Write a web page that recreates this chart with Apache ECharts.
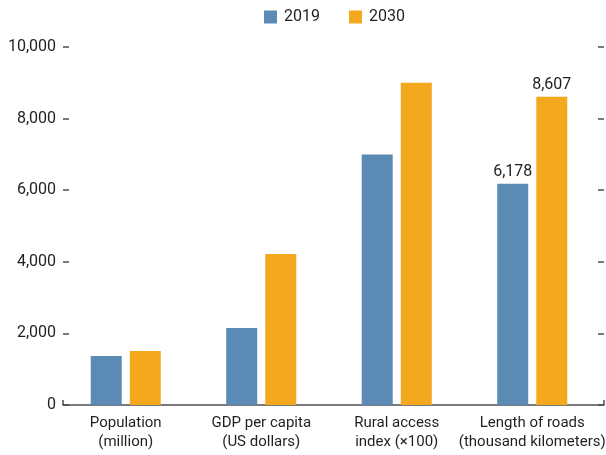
<!DOCTYPE html>
<html>
<head>
<meta charset="utf-8">
<script src="https://cdn.jsdelivr.net/npm/echarts@6/dist/echarts.min.js"></script>
<style>
  html, body { margin: 0; padding: 0; background: #fff; }
  #chart { width: 606px; height: 455px; }
</style>
</head>
<body>
<div id="chart"></div>
<script>
// values
var categories = ['Population\n(million)', 'GDP per capita\n(US dollars)', 'Rural access\nindex (\u00d7100)', 'Length of roads\n(thousand kilometers)']
var years = ['2019', '2030']
var values2019 = [1370, 2150, 7000, 6178]
var values2030 = [1505, 4220, 9000, 8607]
var labelled = [false, false, false, true] // only the roads pair carries numbers
var yTicks = { min: 0, max: 10000, interval: 2000 }

var FONT = "Roboto, 'Liberation Sans', sans-serif"
var TEXT = '#231f20'
var AXIS = '#4d4d4f'

function withLabels(arr) {
  return arr.map(function (v, i) {
    return labelled[i] ? { value: v, label: { show: true } } : v
  })
}

var chart = echarts.init(document.getElementById('chart'))
chart.setOption({
  animation: false,
  textStyle: { fontFamily: FONT },
  color: ['#5b8ab5', '#f4a81e'],
  legend: {
    data: years,
    left: 264,
    top: 9,
    padding: 0,
    itemWidth: 13,
    itemHeight: 13,
    itemGap: 29,
    icon: 'rect',
    textStyle: { fontFamily: FONT, fontSize: 16, color: TEXT, padding: [0, 0, 0, 2] }
  },
  grid: [
    // bars
    { left: 58, right: 6, top: 47, bottom: 50, outerBoundsMode: 'none' },
    // frame: axis line, end ticks, y labels
    { left: 63, right: 2, top: 47, bottom: 50, outerBoundsMode: 'none' }
  ],
  xAxis: [
    {
      gridIndex: 0,
      type: 'category',
      data: categories,
      axisLine: { show: false },
      axisTick: { show: false },
      axisLabel: {
        margin: 9,
        fontFamily: FONT,
        fontSize: 15,
        lineHeight: 19,
        color: TEXT,
        interval: 0
      }
    },
    {
      gridIndex: 1,
      type: 'value',
      min: 0,
      max: 1,
      interval: 1,
      axisLine: { show: true, lineStyle: { color: AXIS, width: 1.5 } },
      axisTick: { show: true, inside: true, length: 5, lineStyle: { color: AXIS, width: 1.5 } },
      axisLabel: { show: false },
      splitLine: { show: false }
    }
  ],
  yAxis: [
    {
      gridIndex: 0,
      type: 'value',
      min: yTicks.min,
      max: yTicks.max,
      interval: yTicks.interval,
      show: false
    },
    {
      gridIndex: 1,
      type: 'value',
      position: 'left',
      min: yTicks.min,
      max: yTicks.max,
      interval: yTicks.interval,
      axisLine: { show: false },
      axisTick: { show: true, inside: true, length: 6, lineStyle: { color: AXIS, width: 1.5 } },
      axisLabel: {
        margin: 7,
        fontFamily: FONT,
        fontSize: 16,
        color: TEXT,
        formatter: function (v) { return v.toLocaleString('en-US') }
      },
      splitLine: { show: false }
    },
    {
      gridIndex: 1,
      type: 'value',
      position: 'right',
      min: yTicks.min,
      max: yTicks.max,
      interval: yTicks.interval,
      axisLine: { show: false },
      axisTick: { show: true, inside: true, length: 6, lineStyle: { color: AXIS, width: 1.5 } },
      axisLabel: { show: false },
      splitLine: { show: false }
    }
  ],
  series: [
    {
      name: years[0],
      type: 'bar',
      xAxisIndex: 0,
      yAxisIndex: 0,
      barWidth: 31,
      barGap: '26%',
      data: withLabels(values2019),
      label: {
        position: 'top',
        distance: 4,
        fontFamily: FONT,
        fontSize: 16,
        color: TEXT,
        formatter: function (p) { return p.value.toLocaleString('en-US') }
      }
    },
    {
      name: years[1],
      type: 'bar',
      xAxisIndex: 0,
      yAxisIndex: 0,
      barWidth: 31,
      barGap: '26%',
      data: withLabels(values2030),
      label: {
        position: 'top',
        distance: 4,
        fontFamily: FONT,
        fontSize: 16,
        color: TEXT,
        formatter: function (p) { return p.value.toLocaleString('en-US') }
      }
    }
  ]
})
</script>
</body>
</html>
